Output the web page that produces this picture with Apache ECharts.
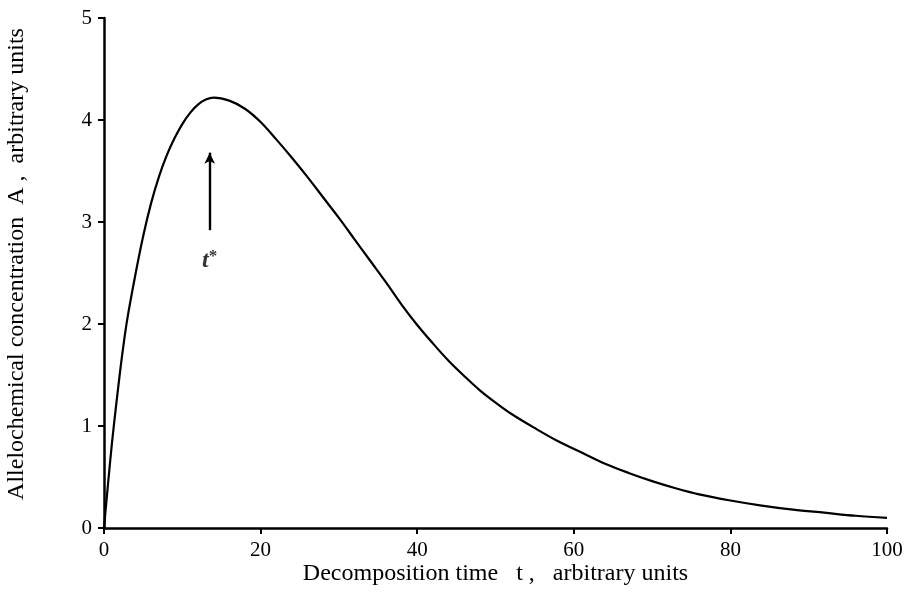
<!DOCTYPE html>
<html><head><meta charset="utf-8">
<script src="https://cdn.jsdelivr.net/npm/echarts@6/dist/echarts.min.js"></script>
<style>html,body{margin:0;padding:0;background:#fff}#c{width:909px;height:607px}</style>
</head><body><div id="c"></div>
<script>
const timeValues = [0, 0.5, 1, 1.5, 2, 2.5, 3, 4, 5, 6, 7, 8, 9, 10, 11, 12, 13, 14, 16, 18, 20, 22, 24, 26, 28, 30, 32, 34, 36, 38, 40, 42, 44, 46, 48, 50, 52, 55, 58, 61, 64, 67, 70, 73, 76, 80, 84, 88, 92, 96, 100];
const concValues = [0, 0.42, 0.82, 1.17, 1.5, 1.8, 2.06, 2.48, 2.86, 3.18, 3.44, 3.65, 3.82, 3.96, 4.07, 4.15, 4.20, 4.22, 4.19, 4.11, 3.98, 3.81, 3.63, 3.44, 3.24, 3.04, 2.83, 2.62, 2.41, 2.19, 1.99, 1.81, 1.64, 1.49, 1.35, 1.23, 1.12, 0.98, 0.85, 0.74, 0.63, 0.54, 0.46, 0.39, 0.33, 0.27, 0.22, 0.18, 0.15, 0.12, 0.10];
const arrowT = 13.5;
const arrowFrom = 2.92;
const arrowTo = 3.68;
const labelA = 2.62;
const xTicks = [0, 20, 40, 60, 80, 100];
const yTicks = [0, 1, 2, 3, 4, 5];
const xTitle = 'Decomposition time   t ,   arbitrary units';
const yTitle = 'Allelochemical concentration  A ,  arbitrary units';

const font = '"Liberation Serif", "DejaVu Serif", serif';
const chart = echarts.init(document.getElementById('c'), null, {renderer: 'canvas'});
chart.setOption({
  animation: false,
  backgroundColor: '#fff',
  grid: {left: 104, right: 22, top: 18, bottom: 79, containLabel: false, outerBoundsMode: 'none'},
  xAxis: {
    type: 'value', min: 0, max: 100, interval: 20,
    axisLine: {show: true, onZero: false, lineStyle: {color: '#000', width: 2.5}},
    axisTick: {show: true, inside: false, length: 6, lineStyle: {color: '#000', width: 2}},
    axisLabel: {color: '#000', fontFamily: font, fontSize: 21, margin: 12,
      formatter: v => xTicks.includes(v) ? String(v) : ''},
    splitLine: {show: false},
    name: xTitle, nameLocation: 'middle', nameGap: 34, nameMoveOverlap: false,
    nameTextStyle: {color: '#000', fontFamily: font, fontSize: 24}
  },
  yAxis: {
    type: 'value', min: 0, max: 5, interval: 1,
    axisLine: {show: true, onZero: false, lineStyle: {color: '#000', width: 2.5}},
    axisTick: {show: true, inside: false, length: 6, lineStyle: {color: '#000', width: 2}},
    axisLabel: {color: '#000', fontFamily: font, fontSize: 21, margin: 12,
      formatter: v => yTicks.includes(v) ? String(v) : ''},
    splitLine: {show: false},
    name: yTitle, nameLocation: 'middle', nameGap: 75, nameMoveOverlap: false,
    nameTextStyle: {color: '#000', fontFamily: font, fontSize: 24, padding: [0, 0, 0, 18]}
  },
  series: [
    {
      type: 'line',
      data: timeValues.map((t, i) => [t, concValues[i]]),
      smooth: 0.35,
      showSymbol: false,
      lineStyle: {color: '#000', width: 2.2},
      z: 3,
      markLine: {
        silent: true,
        symbol: ['none', 'arrow'],
        symbolSize: [8, 11],
        lineStyle: {color: '#000', width: 2.4, type: 'solid'},
        label: {show: false},
        emphasis: {disabled: true},
        data: [[{coord: [arrowT, arrowFrom]}, {coord: [arrowT, arrowTo]}]]
      }
    },
    {
      type: 'scatter',
      data: [[arrowT, labelA]],
      symbolSize: 0,
      silent: true,
      label: {show: true, position: 'inside', formatter: '{t|t}{s|*}',
        rich: {
          t: {fontFamily: font, fontSize: 24, fontStyle: 'italic', fontWeight: 'bold', color: '#000'},
          s: {fontFamily: font, fontSize: 17, fontWeight: 'bold', color: '#000', verticalAlign: 'top', padding: [0, 0, 8, 0]}
        }
      }
    }
  ]
});
</script></body></html>
